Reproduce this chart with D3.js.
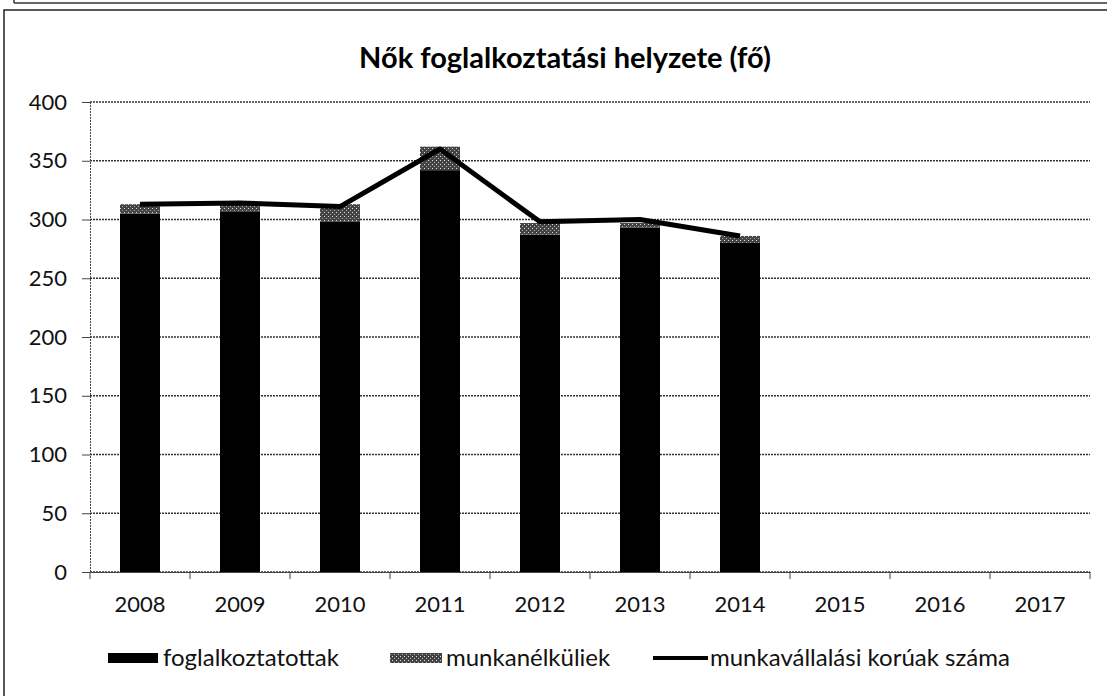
<!DOCTYPE html>
<html>
<head>
<meta charset="utf-8">
<script src="https://cdn.jsdelivr.net/npm/d3@7"></script>
<style>
  body { margin: 0; background: #fff; }
  svg { display: block; font-family: "Lato", "Open Sans", sans-serif; }
</style>
</head>
<body>
<div id="chart"></div>
<script>
// Chart values
const years = ["2008", "2009", "2010", "2011", "2012", "2013", "2014", "2015", "2016", "2017"];
const employed = [305, 307, 298, 342, 287, 293, 280];      // foglalkoztatottak
const unemployed = [8, 7, 15, 20, 10, 4, 6];                // munkanélküliek
const workingAge = [313, 314, 311, 360, 298, 300, 286];     // munkavállalási korúak száma
const yTicks = [0, 50, 100, 150, 200, 250, 300, 350, 400];
const legendLabels = ["foglalkoztatottak", "munkanélküliek", "munkavállalási korúak száma"];
const title = "Nők foglalkoztatási helyzete (fő)";

const width = 1107;
const height = 696;
const margin = {top: 102, right: 17, bottom: 124, left: 90};

const svg = d3.select("#chart").append("svg")
    .attr("width", width)
    .attr("height", height);

// gray dotted fill used for the unemployed part of the bars
const defs = svg.append("defs");
const pat = defs.append("pattern")
    .attr("id", "dots")
    .attr("width", 4)
    .attr("height", 4)
    .attr("patternUnits", "userSpaceOnUse");
pat.append("rect").attr("width", 4).attr("height", 4).attr("fill", "#444");
pat.append("rect").attr("x", 0).attr("y", 0).attr("width", 1).attr("height", 1).attr("fill", "#ddd");
pat.append("rect").attr("x", 2).attr("y", 2).attr("width", 1).attr("height", 1).attr("fill", "#aaa");

// frame of the scanned chart box
svg.append("line")
    .attr("x1", 14).attr("x2", width).attr("y1", 3).attr("y2", 3)
    .attr("stroke", "#333").attr("stroke-width", 1.5);
svg.append("line")
    .attr("x1", 14).attr("x2", 14).attr("y1", 0).attr("y2", 3)
    .attr("stroke", "#333").attr("stroke-width", 1.5);
svg.append("rect")
    .attr("x", 4).attr("y", 10)
    .attr("width", width + 10).attr("height", height + 10)
    .attr("fill", "none").attr("stroke", "#222").attr("stroke-width", 1.5);

const x = d3.scaleBand()
    .domain(years)
    .range([margin.left, width - margin.right])
    .paddingInner(0.6)
    .paddingOuter(0.3);

const y = d3.scaleLinear()
    .domain([0, 400])
    .range([height - margin.bottom, margin.top]);

// gridlines
svg.append("g")
    .selectAll("line")
    .data(yTicks)
    .join("line")
    .attr("x1", margin.left)
    .attr("x2", width - margin.right)
    .attr("y1", d => y(d))
    .attr("y2", d => y(d))
    .attr("stroke", "#333")
    .attr("stroke-width", 1.3)
    .attr("stroke-dasharray", "2,1");

// y axis
const yAxis = svg.append("g")
    .attr("transform", `translate(${margin.left},0)`)
    .call(d3.axisLeft(y).tickValues(yTicks).tickSize(8).tickPadding(15));
yAxis.select(".domain").attr("stroke", "#444").attr("stroke-dasharray", "2,1");
yAxis.selectAll(".tick line").attr("stroke", "#444");
yAxis.selectAll("text")
    .attr("font-size", 22)
    .attr("font-family", "Lato, sans-serif")
    .attr("fill", "#111");

// x axis with ticks between categories
const xAxis = svg.append("g")
    .attr("transform", `translate(0,${y(0)})`)
    .call(d3.axisBottom(x).tickSize(0).tickPadding(24));
xAxis.select(".domain").attr("stroke", "#444");
xAxis.selectAll("text")
    .attr("font-size", 22)
    .attr("font-family", "Lato, sans-serif")
    .attr("fill", "#111");
const step = x.step();
const bounds = years.map(d => x(d) - (step - x.bandwidth()) / 2);
bounds.push(width - margin.right);
svg.append("g")
    .selectAll("line")
    .data(bounds)
    .join("line")
    .attr("x1", d => d).attr("x2", d => d)
    .attr("y1", y(0)).attr("y2", y(0) + 7)
    .attr("stroke", "#444");

// stacked bars
const barYears = years.slice(0, employed.length);
svg.append("g")
    .selectAll("rect")
    .data(barYears)
    .join("rect")
    .attr("x", d => x(d))
    .attr("width", x.bandwidth())
    .attr("y", (d, i) => y(employed[i]))
    .attr("height", (d, i) => y(0) - y(employed[i]))
    .attr("fill", "#000");

svg.append("g")
    .selectAll("rect")
    .data(barYears)
    .join("rect")
    .attr("x", d => x(d))
    .attr("width", x.bandwidth())
    .attr("y", (d, i) => y(employed[i] + unemployed[i]))
    .attr("height", (d, i) => y(employed[i]) - y(employed[i] + unemployed[i]))
    .attr("fill", "url(#dots)");

// working age line
const line = d3.line()
    .x((d, i) => x(years[i]) + x.bandwidth() / 2)
    .y(d => y(d));
svg.append("path")
    .datum(workingAge)
    .attr("d", line)
    .attr("fill", "none")
    .attr("stroke", "#000")
    .attr("stroke-width", 5)
    .attr("stroke-linejoin", "round");

// title
svg.append("text")
    .attr("x", 565)
    .attr("y", 68)
    .attr("text-anchor", "middle")
    .attr("font-size", 29)
    .attr("font-weight", "bold")
    .attr("font-family", "Lato, sans-serif")
    .attr("fill", "#000")
    .text(title);

// legend
const legendY = 658;
const legendX = [108, 390, 653];
const lg = svg.append("g");
lg.append("rect")
    .attr("x", legendX[0]).attr("y", legendY - 5)
    .attr("width", 50).attr("height", 10)
    .attr("fill", "#000");
lg.append("rect")
    .attr("x", legendX[1]).attr("y", legendY - 5)
    .attr("width", 52).attr("height", 10)
    .attr("fill", "url(#dots)");
lg.append("line")
    .attr("x1", legendX[2]).attr("x2", legendX[2] + 55)
    .attr("y1", legendY).attr("y2", legendY)
    .attr("stroke", "#000").attr("stroke-width", 4);
lg.selectAll("text")
    .data(legendLabels)
    .join("text")
    .attr("x", (d, i) => legendX[i] + [55, 56, 57][i])
    .attr("y", legendY + 8)
    .attr("font-size", 24)
    .attr("font-family", "Lato, sans-serif")
    .attr("fill", "#111")
    .text(d => d);
</script>
</body>
</html>
